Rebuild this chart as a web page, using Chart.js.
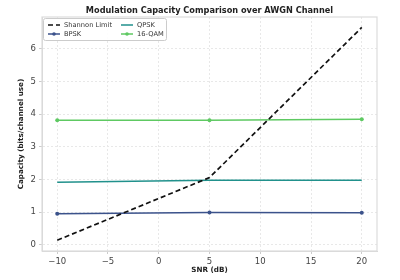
<!DOCTYPE html>
<html><head><meta charset="utf-8">
<script src="https://cdn.jsdelivr.net/npm/chart.js@4.4.1/dist/chart.umd.min.js"></script>
<style>html,body{margin:0;padding:0;background:#fff}#wrap{width:400px;height:280px}</style>
</head><body><div id="wrap"><canvas id="c" width="400" height="280"></canvas></div>
<script>
const snrDb = [-10, 5, 20];
const shannon = [0.14, 2.06, 6.66];
const bpsk = [0.95, 0.99, 0.98];
const qpsk = [1.92, 1.98, 1.98];
const qam16 = [3.82, 3.82, 3.85];
const xTicks = [-10, -5, 0, 5, 10, 15, 20];
const yTicks = [0, 1, 2, 3, 4, 5, 6];
const seriesNames = ['Shannon Limit', 'BPSK', 'QPSK', '16-QAM'];
const chartTitle = 'Modulation Capacity Comparison over AWGN Channel';

const pts = (ys) => snrDb.map((x, i) => ({x, y: ys[i]}));
const FONT = 'DejaVu Sans';

const legendPlugin = {
  id: 'boxLegend',
  afterDraw(chart) {
    const ctx = chart.ctx, a = chart.chartArea;
    ctx.save();
    ctx.fillStyle = '#222';
    ctx.font = 'bold 8.2px ' + FONT;
    ctx.textAlign = 'center';
    ctx.textBaseline = 'middle';
    ctx.fillText(chartTitle, (a.left + a.right) / 2, 10.5);
    ctx.restore();

    const x0 = a.left + 1, y0 = a.top + 1, w = 123, h = 22;
    ctx.save();
    ctx.fillStyle = 'rgba(255,255,255,0.9)';
    ctx.strokeStyle = '#cccccc';
    ctx.lineWidth = 1;
    ctx.beginPath();
    ctx.roundRect(x0 + 0.5, y0 + 0.5, w, h, 2);
    ctx.fill(); ctx.stroke();
    const ds = chart.data.datasets;
    [0, 1, 2, 3].forEach((di, k) => {
      const col = Math.floor(k / 2), row = k % 2;
      const lx = x0 + 5 + col * 73, ly = y0 + 7 + row * 9;
      const d = ds[di];
      ctx.strokeStyle = d.borderColor;
      ctx.lineWidth = d.borderWidth;
      ctx.setLineDash(d.borderDash || []);
      ctx.beginPath(); ctx.moveTo(lx, ly); ctx.lineTo(lx + 12, ly); ctx.stroke();
      ctx.setLineDash([]);
      if (d.pointRadius > 0) {
        ctx.fillStyle = d.borderColor;
        ctx.beginPath(); ctx.arc(lx + 6, ly, 1.8, 0, Math.PI * 2); ctx.fill();
      }
      ctx.fillStyle = '#333';
      ctx.font = '6.7px ' + FONT;
      ctx.textBaseline = 'middle';
      ctx.fillText(d.label, lx + 16, ly + 0.5);
    });
    ctx.restore();
  }
};

new Chart(document.getElementById('c'), {
  type: 'scatter',
  data: {
    datasets: [
      {label: seriesNames[0], data: pts(shannon), showLine: true, borderColor: '#111', backgroundColor: '#111', borderWidth: 1.7, borderDash: [5, 3], pointRadius: 0},
      {label: seriesNames[1], data: pts(bpsk), showLine: true, borderColor: '#3b528b', backgroundColor: '#3b528b', borderWidth: 1.5, pointRadius: 2, pointBorderWidth: 0},
      {label: seriesNames[2], data: pts(qpsk), showLine: true, borderColor: '#21918c', backgroundColor: '#21918c', borderWidth: 1.5, pointRadius: 0},
      {label: seriesNames[3], data: pts(qam16), showLine: true, borderColor: '#5ec962', backgroundColor: '#5ec962', borderWidth: 1.5, pointRadius: 2, pointBorderWidth: 0}
    ]
  },
  options: {
    responsive: false, animation: false,
    layout: {padding: {left: 0, right: 23, top: 17, bottom: 0}},
    plugins: {
      legend: {display: false},
      tooltip: {enabled: false},
      title: {display: false}
    },
    scales: {
      x: {
        type: 'linear', min: -11.5, max: 21.5,
        afterBuildTicks: (s) => { s.ticks = xTicks.map(v => ({value: v})); },
        afterFit: (s) => { s.height = 29; },
        ticks: {font: {family: FONT, size: 8.5}, color: '#444', padding: 3,
          callback: (v) => String(v).replace('-', '\u2212')},
        grid: {color: '#e8e8e8', drawTicks: true, tickLength: 3, tickColor: '#ccc'},
        border: {color: '#d6d6d6', width: 1, dash: [2, 2]},
        title: {display: true, text: 'SNR (dB)', font: {family: FONT, size: 7.2, weight: 'bold'}, color: '#222', padding: {top: 1, bottom: 6}}
      },
      y: {
        type: 'linear', min: -0.19, max: 6.98,
        afterBuildTicks: (s) => { s.ticks = yTicks.map(v => ({value: v})); },
        afterFit: (s) => { s.width = 42; },
        ticks: {font: {family: FONT, size: 8.5}, color: '#444', padding: 3},
        grid: {color: '#e8e8e8', drawTicks: true, tickLength: 3, tickColor: '#ccc'},
        border: {color: '#d6d6d6', width: 1, dash: [2, 2]},
        title: {display: true, text: 'Capacity (bits/channel use)', font: {family: FONT, size: 7.2, weight: 'bold'}, color: '#222', padding: {top: 17, bottom: 0}}
      }
    }
  },
  plugins: [legendPlugin, {
    id: 'frame',
    beforeDraw(chart) {
      const ctx = chart.ctx;
      ctx.save(); ctx.fillStyle = '#fff'; ctx.fillRect(0, 0, 400, 280); ctx.restore();
    },
    afterDatasetsDraw(chart) {
      const ctx = chart.ctx, a = chart.chartArea;
      ctx.save(); ctx.strokeStyle = '#dcdcdc'; ctx.lineWidth = 1.2;
      ctx.strokeRect(a.left, a.top, a.right - a.left, a.bottom - a.top);
      ctx.restore();
    }
  }]
});
</script></body></html>
